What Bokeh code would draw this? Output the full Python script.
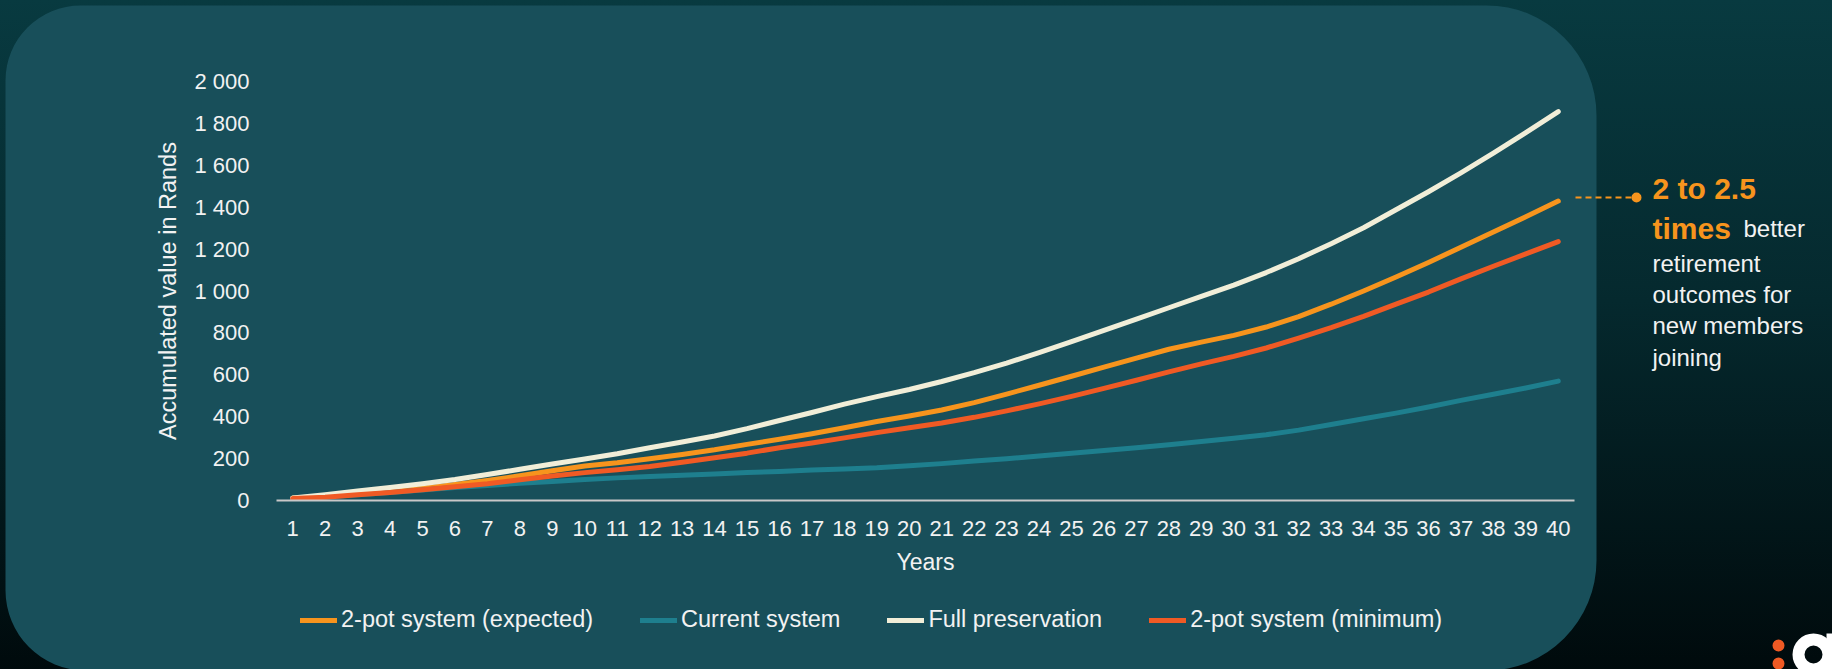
from bokeh.plotting import figure
from bokeh.models import (FixedTicker, Legend, LegendItem, BoxAnnotation, Label,
                          Arrow, Range1d)
from bokeh.embed import file_html
from bokeh.resources import INLINE

# ---------------- data ----------------
years = list(range(1, 41))
year_labels = [str(y) for y in years]

expected_2pot = [12, 20, 32, 45, 59, 76, 96, 118, 142, 165,
                 180, 199, 220, 242, 268, 292, 319, 347, 377, 403,
                 432, 467, 508, 550, 593, 637, 680, 722, 756, 788,
                 828, 878, 937, 1000, 1067, 1136, 1209, 1282, 1354, 1429]
current_system = [10, 17, 27, 38, 50, 62, 72, 82, 91, 100,
                  108, 115, 121, 127, 134, 139, 145, 150, 156, 166,
                  176, 188, 199, 212, 226, 239, 252, 266, 282, 297,
                  314, 336, 363, 390, 417, 446, 478, 507, 537, 570]
full_preservation = [12, 27, 45, 62, 80, 100, 124, 149, 174, 198,
                     223, 252, 279, 308, 343, 382, 420, 460, 496, 530,
                     568, 610, 656, 706, 758, 812, 866, 920, 974, 1028,
                     1088, 1154, 1226, 1302, 1388, 1474, 1564, 1658, 1756, 1856]
minimum_2pot = [10, 16, 27, 38, 51, 66, 80, 99, 117, 133,
                147, 162, 183, 204, 226, 252, 274, 299, 324, 347,
                370, 397, 428, 461, 497, 535, 574, 614, 652, 688,
                728, 775, 825, 879, 937, 995, 1058, 1118, 1177, 1236]

series_names = ["2-pot system (expected)", "Current system",
                "Full preservation", "2-pot system (minimum)"]
series_values = [expected_2pot, current_system, full_preservation, minimum_2pot]
series_colors = ["#F7941D", "#1E7F8E", "#F1EED8", "#F05A24"]

y_ticks = [0, 200, 400, 600, 800, 1000, 1200, 1400, 1600, 1800, 2000]
y_tick_labels = ["0", "200", "400", "600", "800", "1 000", "1 200",
                 "1 400", "1 600", "1 800", "2 000"]

x_title = "Years"
y_title = "Accumulated value in Rands"
callout_head = "2 to 2.5"
callout_bold = "times"
callout_lines = ["better", "retirement", "outcomes for", "new members", "joining"]

# ---------------- layout (pixels) ----------------
FONT = "Liberation Sans"
TXT = "#F2F2F2"
ORANGE = "#F7941D"
W, H = 1832, 669
PX_L, PX_R = 276, 1574      # pixel edges of the plot area (years 0.5 .. 40.5)
PY_0, PY_TOP = 500, 81      # pixel rows of value 0 and value 2000
XLO, XHI = 0.5, 40.5
YLO, YHI = 0, 2000

sx = (PX_R - PX_L) / (XHI - XLO)
sy = (PY_0 - PY_TOP) / (YHI - YLO)
X0 = XLO - PX_L / sx
X1 = XHI + (W - PX_R) / sx
Y1 = YHI + PY_TOP / sy
Y0 = YLO - (H - PY_0) / sy


def cx(px):
    return X0 + px / sx


def cy(py):
    return Y1 - py / sy


p = figure(width=W, height=H, output_backend="svg", toolbar_location=None,
           x_range=Range1d(X0, X1), y_range=Range1d(Y0, Y1),
           min_border=0,
           background_fill_alpha=0, border_fill_alpha=0,
           outline_line_color=None,
           styles={"background": "linear-gradient(180deg, #083a40 0%, #05292e 45%, #000a0c 100%)"})

# rounded panel behind the chart
p.add_layout(BoxAnnotation(left=cx(5), right=cx(1596), top=cy(5), bottom=cy(670),
                           fill_color="#184F5A", fill_alpha=1, line_alpha=0,
                           level="underlay",
                           border_radius=dict(top_left=75, top_right=110,
                                              bottom_right=110, bottom_left=80)))

renderers = []
for name, vals, color in zip(series_names, series_values, series_colors):
    r = p.line(years, vals, line_color=color, line_width=5,
               line_cap="round", line_join="round")
    renderers.append(r)

# axes
p.xgrid.grid_line_color = None
p.ygrid.grid_line_color = None

xa = p.xaxis[0]
xa.fixed_location = YLO
xa.bounds = (XLO, XHI)
xa.ticker = FixedTicker(ticks=years)
xa.major_label_overrides = {y: l for y, l in zip(years, year_labels)}
xa.axis_line_color = "#C8C8C8"
xa.axis_line_width = 2
xa.major_tick_line_color = None
xa.minor_tick_line_color = None
xa.major_label_text_font = FONT
xa.major_label_text_font_size = "22px"
xa.major_label_text_color = TXT
xa.major_label_standoff = 14
xa.axis_label = x_title
xa.axis_label_text_font = FONT
xa.axis_label_text_font_size = "23px"
xa.axis_label_text_font_style = "normal"
xa.axis_label_text_color = TXT
xa.axis_label_standoff = 10

ya = p.yaxis[0]
ya.fixed_location = XLO
ya.bounds = (YLO, YHI)
ya.ticker = FixedTicker(ticks=y_ticks)
ya.major_label_overrides = {t: l for t, l in zip(y_ticks, y_tick_labels)}
ya.axis_line_color = None
ya.major_tick_line_color = None
ya.minor_tick_line_color = None
ya.major_label_text_font = FONT
ya.major_label_text_font_size = "22px"
ya.major_label_text_color = TXT
ya.major_label_standoff = 21
ya.axis_label = y_title
ya.axis_label_text_font = FONT
ya.axis_label_text_font_size = "23.5px"
ya.axis_label_text_font_style = "normal"
ya.axis_label_text_color = TXT
ya.axis_label_standoff = 10

# legend (location = bottom-left corner, in px from the frame's bottom-left)
legend = Legend(items=[LegendItem(label=n, renderers=[r]) for n, r in zip(series_names, renderers)],
                orientation="horizontal", location=(300, H - 633),
                glyph_width=37, glyph_height=26, label_height=26,
                label_standoff=4, spacing=47, padding=0, margin=0,
                border_line_alpha=0, background_fill_alpha=0,
                label_text_font=FONT, label_text_font_size="23.5px",
                label_text_color=TXT)
p.add_layout(legend, "center")

# callout
p.add_layout(Arrow(x_start=cx(1575), y_start=cy(197), x_end=cx(1633), y_end=cy(197),
                   end=None, line_color=ORANGE, line_width=2, line_dash="6 4"))
p.add_layout(BoxAnnotation(left=cx(1631), right=cx(1641), top=cy(192), bottom=cy(202),
                           fill_color=ORANGE, fill_alpha=1, line_alpha=0,
                           border_radius=5))

BASE_SHIFT = 9   # rendered baseline sits lower than requested
p.add_layout(Label(x=cx(1652), y=cy(197 - BASE_SHIFT), text=callout_head, text_font=FONT,
                   text_font_size="30px", text_font_style="bold", text_color=ORANGE,
                   text_baseline="alphabetic", text_align="left"))
p.add_layout(Label(x=cx(1652), y=cy(237 - BASE_SHIFT), text=callout_bold, text_font=FONT,
                   text_font_size="30px", text_font_style="bold", text_color=ORANGE,
                   text_baseline="alphabetic", text_align="left"))
line_x = [1743, 1652, 1652, 1652, 1652]
line_y = [237, 272, 303, 334, 366]
for t, lx, ly in zip(callout_lines, line_x, line_y):
    p.add_layout(Label(x=cx(lx), y=cy(ly - BASE_SHIFT), text=t, text_font=FONT,
                       text_font_size="24px", text_color=TXT,
                       text_baseline="alphabetic", text_align="left"))

# logo fragment bottom-right (shapes)
for c in (645, 663):
    p.add_layout(BoxAnnotation(left=cx(1772), right=cx(1784), top=cy(c - 6), bottom=cy(c + 6),
                               fill_color="#F05A24", fill_alpha=1, line_alpha=0,
                               border_radius=6))
p.annulus(x=[cx(1813)], y=[cy(654)], inner_radius=9, outer_radius=21,
          inner_radius_units="screen", outer_radius_units="screen",
          fill_color="#FFFFFF", line_alpha=0)
p.add_layout(BoxAnnotation(left=cx(1826), right=cx(1840), top=cy(633), bottom=cy(672),
                           fill_color="#FFFFFF", fill_alpha=1, line_alpha=0))

open("out.html", "w").write(file_html(p, INLINE))
